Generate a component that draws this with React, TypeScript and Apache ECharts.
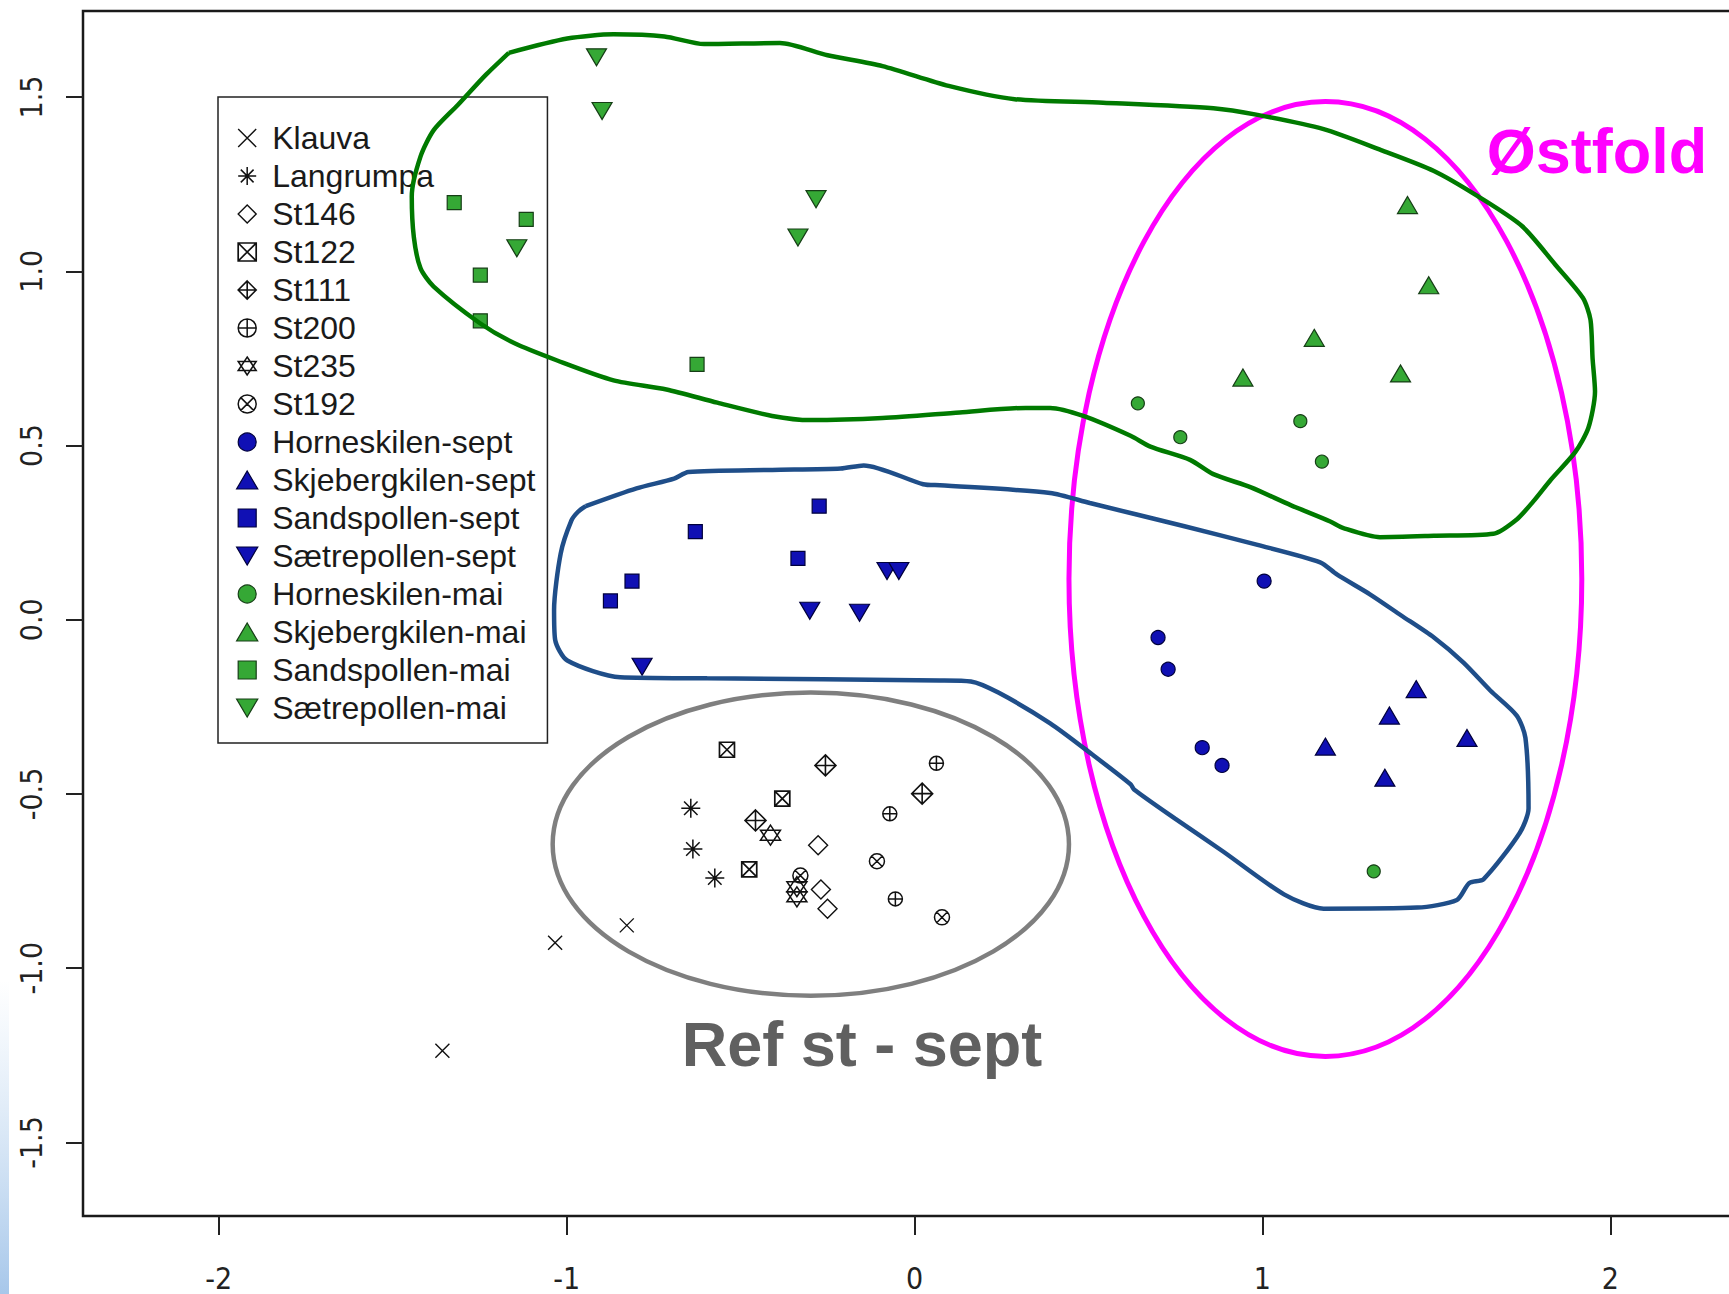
import React, { useEffect, useRef } from "react";
import * as echarts from "echarts";

// ---------- axis ----------
const xTicks = [-2, -1, 0, 1, 2];
const yTicks = [-1.5, -1, -0.5, 0, 0.5, 1, 1.5];
const xRange = [-2.39, 2.39];
const yRange = [-1.711, 1.747];

// ---------- reference stations (open symbols) ----------
const klauva = [[-1.033, -0.927], [-0.827, -0.877], [-1.357, -1.237]];
const langrumpa = [[-0.643, -0.541], [-0.637, -0.658], [-0.574, -0.741]];
const st146 = [[-0.277, -0.647], [-0.269, -0.774], [-0.250, -0.829]];
const st122 = [[-0.539, -0.373], [-0.380, -0.513], [-0.475, -0.716]];
const st111 = [[-0.256, -0.418], [-0.457, -0.576], [0.022, -0.499]];
const st200 = [[0.063, -0.412], [-0.071, -0.557], [-0.055, -0.801]];
const st235 = [[-0.414, -0.618], [-0.338, -0.766], [-0.338, -0.795]];
const st192 = [[-0.328, -0.734], [-0.108, -0.693], [0.079, -0.854]];

// ---------- Østfold stations ----------
const horneskilenSept = [[1.005, 0.111], [0.700, -0.051], [0.729, -0.142], [0.827, -0.367], [0.884, -0.418]];
const skjebergkilenSept = [[1.442, -0.199], [1.365, -0.275], [1.181, -0.364], [1.588, -0.339], [1.352, -0.453]];
const sandspollenSept = [[-0.630, 0.253], [-0.274, 0.326], [-0.335, 0.176], [-0.812, 0.111], [-0.874, 0.054]];
const saetrepollenSept = [[-0.301, 0.026], [-0.158, 0.020], [-0.079, 0.140], [-0.045, 0.140], [-0.783, -0.135]];
const horneskilenMai = [[0.642, 0.621], [0.764, 0.524], [1.109, 0.570], [1.171, 0.454], [1.320, -0.722]];
const skjebergkilenMai = [[1.417, 1.190], [1.478, 0.960], [1.149, 0.809], [0.944, 0.695], [1.397, 0.707]];
const sandspollenMai = [[-1.323, 1.197], [-1.116, 1.149], [-1.248, 0.989], [-1.248, 0.858], [-0.625, 0.733]];
const saetrepollenMai = [[-0.914, 1.614], [-0.898, 1.460], [-0.283, 1.207], [-0.335, 1.097], [-1.143, 1.066]];

// ---------- hand-drawn outlines (data units) ----------
const greenOutline = [
  [-1.166, 1.627], [-0.998, 1.668], [-0.865, 1.680], [-0.719, 1.674], [-0.605, 1.652], [-0.387, 1.655],
  [-0.250, 1.620], [-0.092, 1.589], [0.098, 1.532], [0.288, 1.494], [0.542, 1.484], [0.859, 1.468],
  [0.986, 1.449], [1.176, 1.408], [1.341, 1.348], [1.493, 1.288], [1.620, 1.215], [1.746, 1.130],
  [1.842, 1.019], [1.921, 0.924], [1.943, 0.861], [1.949, 0.750], [1.956, 0.655], [1.937, 0.551],
  [1.899, 0.481], [1.829, 0.402], [1.778, 0.339], [1.731, 0.288], [1.664, 0.247], [1.493, 0.241],
  [1.338, 0.237], [1.233, 0.263], [1.195, 0.282], [1.081, 0.329], [0.967, 0.380], [0.859, 0.418],
  [0.792, 0.459], [0.678, 0.497], [0.621, 0.528], [0.485, 0.585], [0.390, 0.608], [0.320, 0.608],
  [0.130, 0.595], [-0.092, 0.579], [-0.298, 0.573], [-0.409, 0.585], [-0.567, 0.623], [-0.713, 0.661],
  [-0.865, 0.687], [-1.027, 0.744], [-1.151, 0.794], [-1.249, 0.851], [-1.382, 0.956], [-1.420, 1.009],
  [-1.439, 1.098], [-1.445, 1.215], [-1.420, 1.329], [-1.382, 1.405], [-1.312, 1.478], [-1.233, 1.563],
  [-1.166, 1.627],
];
const blueOutline = [
  [-0.945, 0.326], [-0.799, 0.377], [-0.691, 0.405], [-0.650, 0.424], [-0.409, 0.430], [-0.212, 0.434],
  [-0.146, 0.443], [0.025, 0.389], [0.073, 0.386], [0.390, 0.364], [0.504, 0.335], [0.773, 0.269],
  [0.986, 0.215], [1.166, 0.165], [1.214, 0.130], [1.309, 0.073], [1.398, 0.013], [1.493, -0.051],
  [1.578, -0.123], [1.655, -0.203], [1.731, -0.275], [1.756, -0.339], [1.765, -0.541], [1.740, -0.611],
  [1.636, -0.744], [1.594, -0.756], [1.559, -0.804], [1.445, -0.826], [1.176, -0.829], [1.062, -0.788],
  [0.887, -0.665], [0.748, -0.570], [0.631, -0.487], [0.621, -0.472], [0.510, -0.386], [0.390, -0.297],
  [0.241, -0.209], [0.162, -0.177], [0.073, -0.174], [-0.596, -0.168], [-0.846, -0.165], [-0.998, -0.117],
  [-1.033, -0.057], [-1.036, 0.028], [-1.017, 0.190], [-0.986, 0.285], [-0.967, 0.310], [-0.945, 0.326],
];
// ellipses: [centerX, centerY, radiusX, radiusY]
const ostfoldEllipse = [[1.181, 0.117, 0.737, 1.370]];
const refEllipse = [[-0.298, -0.644, 0.742, 0.435]];

// ---------- symbols ----------
const SYM: Record<string, string> = {
  cross: "path://M0,0L20,20M20,0L0,20",
  star: "path://M10,0L10,20M0,10L20,10M2.9,2.9L17.1,17.1M17.1,2.9L2.9,17.1",
  diamond: "path://M10,0L20,10L10,20L0,10Z",
  boxX: "path://M0,0L20,0L20,20L0,20ZM0,0L20,20M20,0L0,20",
  diamondPlus: "path://M10,0L20,10L10,20L0,10ZM10,0L10,20M0,10L20,10",
  circlePlus: "path://M0,10A10,10,0,1,1,20,10A10,10,0,1,1,0,10ZM10,0L10,20M0,10L20,10",
  davidStar: "path://M10,0L20,15L0,15ZM10,20L0,5L20,5Z",
  circleX: "path://M0,10A10,10,0,1,1,20,10A10,10,0,1,1,0,10ZM2.9,2.9L17.1,17.1M17.1,2.9L2.9,17.1",
  circle: "circle",
  triUp: "path://M10,0L20,17L0,17Z",
  square: "path://M0,0L20,0L20,20L0,20Z",
  triDown: "path://M0,0L20,0L10,17Z",
};

const BLUE = "#1010B4";
const BLUE_EDGE = "#00003C";
const GREEN = "#35A835";
const GREEN_EDGE = "#163E16";

type Def = { name: string; data: number[][]; sym: string; size: number | number[]; fill: string; edge: string; lw: number };
const defs: Def[] = [
  { name: "Klauva", data: klauva, sym: "cross", size: 14, fill: "transparent", edge: "#111", lw: 1.4 },
  { name: "Langrumpa", data: langrumpa, sym: "star", size: 19, fill: "transparent", edge: "#111", lw: 1.5 },
  { name: "St146", data: st146, sym: "diamond", size: 19, fill: "transparent", edge: "#111", lw: 1.4 },
  { name: "St122", data: st122, sym: "boxX", size: 15, fill: "transparent", edge: "#111", lw: 1.7 },
  { name: "St111", data: st111, sym: "diamondPlus", size: 21, fill: "transparent", edge: "#111", lw: 1.6 },
  { name: "St200", data: st200, sym: "circlePlus", size: 14, fill: "transparent", edge: "#111", lw: 1.5 },
  { name: "St235", data: st235, sym: "davidStar", size: 20, fill: "transparent", edge: "#111", lw: 1.5 },
  { name: "St192", data: st192, sym: "circleX", size: 15, fill: "transparent", edge: "#111", lw: 1.5 },
  { name: "Horneskilen-sept", data: horneskilenSept, sym: "circle", size: 14, fill: BLUE, edge: BLUE_EDGE, lw: 1.2 },
  { name: "Skjebergkilen-sept", data: skjebergkilenSept, sym: "triUp", size: [20, 17], fill: BLUE, edge: BLUE_EDGE, lw: 1.2 },
  { name: "Sandspollen-sept", data: sandspollenSept, sym: "square", size: 14, fill: BLUE, edge: BLUE_EDGE, lw: 1.2 },
  { name: "Sætrepollen-sept", data: saetrepollenSept, sym: "triDown", size: [20, 17], fill: BLUE, edge: BLUE_EDGE, lw: 1.2 },
  { name: "Horneskilen-mai", data: horneskilenMai, sym: "circle", size: 13, fill: GREEN, edge: GREEN_EDGE, lw: 1.2 },
  { name: "Skjebergkilen-mai", data: skjebergkilenMai, sym: "triUp", size: [20, 17], fill: GREEN, edge: GREEN_EDGE, lw: 1.2 },
  { name: "Sandspollen-mai", data: sandspollenMai, sym: "square", size: 14, fill: GREEN, edge: GREEN_EDGE, lw: 1.2 },
  { name: "Sætrepollen-mai", data: saetrepollenMai, sym: "triDown", size: [20, 17], fill: GREEN, edge: GREEN_EDGE, lw: 1.2 },
];

const FONT = "'Liberation Sans', Arial, Helvetica, sans-serif";
const AXIS_FONT = "'Liberation Sans Narrow', 'DejaVu Sans Condensed', 'Liberation Sans', Arial, sans-serif";

export default function App() {
  const ref = useRef<HTMLDivElement>(null);
  useEffect(() => {
    if (!ref.current) return;
    const chart = echarts.init(ref.current, null, { renderer: "svg" });

    const scatterSeries = defs.map((d) => ({
      type: "scatter",
      name: d.name,
      data: d.data,
      symbol: SYM[d.sym],
      symbolSize: d.size,
      z: 6,
      silent: true,
      itemStyle: { color: d.fill, borderColor: d.edge, borderWidth: d.lw, opacity: 1 },
    }));

    const outline = (name: string, data: number[][], color: string) => ({
      type: "line",
      name,
      data,
      smooth: 0.25,
      showSymbol: false,
      symbol: "none",
      silent: true,
      z: 10,
      lineStyle: { color, width: 4.5 },
    });

    const ellipse = (name: string, data: number[][], color: string, width: number) => ({
      type: "custom",
      name,
      data,
      z: 10,
      silent: true,
      renderItem: (_p: any, api: any) => {
        const c = api.coord([api.value(0), api.value(1)]);
        const s = api.size([api.value(2), api.value(3)]);
        return {
          type: "ellipse",
          shape: { cx: c[0], cy: c[1], rx: s[0], ry: s[1] },
          style: { fill: "none", stroke: color, lineWidth: width },
        };
      },
    });

    const option: any = {
      animation: false,
      backgroundColor: "#ffffff",
      grid: {
        left: 83,
        top: 11,
        width: 1663,
        height: 1205,
        outerBoundsMode: "none",
        containLabel: false,
        show: true,
        borderColor: "#1a1a1a",
        borderWidth: 2.5,
        backgroundColor: "transparent",
      },
      xAxis: {
        type: "value",
        min: xRange[0],
        max: xRange[1],
        splitLine: { show: false },
        axisLine: { show: false, onZero: false },
        axisTick: { show: true, length: 19, lineStyle: { color: "#222", width: 2 }, customValues: xTicks },
        axisLabel: {
          customValues: xTicks,
          fontSize: 30,
          color: "#222",
          margin: 47,
          fontFamily: AXIS_FONT,
          formatter: (v: number) => String(v),
        },
      },
      yAxis: {
        type: "value",
        min: yRange[0],
        max: yRange[1],
        splitLine: { show: false },
        axisLine: { show: false, onZero: false },
        axisTick: { show: true, length: 17, lineStyle: { color: "#222", width: 2 }, customValues: yTicks },
        axisLabel: {
          customValues: yTicks,
          rotate: 90,
          fontSize: 30,
          color: "#222",
          margin: 37,
          fontFamily: AXIS_FONT,
          formatter: (v: number) => v.toFixed(1),
        },
      },
      legend: {
        orient: "vertical",
        left: 218,
        top: 97,
        padding: [25, 12, 19, 18],
        itemGap: 6,
        itemWidth: 40,
        itemHeight: 18,
        selectedMode: false,
        backgroundColor: "transparent",
        borderColor: "#222",
        borderWidth: 1.5,
        z: 4,
        textStyle: { fontSize: 32, lineHeight: 32, color: "#1a1a1a", fontFamily: FONT },
        data: defs.map((d) => ({
          name: d.name,
          icon: SYM[d.sym],
          itemStyle: { color: d.fill, borderColor: d.edge, borderWidth: d.lw },
        })),
      },
      graphic: [
        {
          type: "rect",
          left: 0,
          top: 980,
          shape: { width: 9, height: 314 },
          style: {
            fill: new echarts.graphic.LinearGradient(0, 0, 0, 1, [
              { offset: 0, color: "rgba(190,215,240,0)" },
              { offset: 1, color: "#a7c7ea" },
            ]),
          },
          z: 20,
          silent: true,
        },
        {
          type: "text",
          x: 1597,
          y: 151,
          z: 20,
          silent: true,
          style: {
            text: "Østfold",
            fill: "#FF00FF",
            fontSize: 63,
            fontWeight: "bold",
            fontFamily: FONT,
            textAlign: "center",
            textVerticalAlign: "middle",
          },
        },
        {
          type: "text",
          x: 862,
          y: 1044,
          z: 20,
          silent: true,
          style: {
            text: "Ref st - sept",
            fill: "#606060",
            fontSize: 63,
            fontWeight: "bold",
            fontFamily: FONT,
            textAlign: "center",
            textVerticalAlign: "middle",
          },
        },
      ],
      series: [
        ...scatterSeries,
        outline("greenOutline", greenOutline, "#007A00"),
        outline("blueOutline", blueOutline, "#1F4E89"),
        ellipse("ostfoldEllipse", ostfoldEllipse, "#FF00FF", 5),
        ellipse("refEllipse", refEllipse, "#7F7F7F", 4.5),
      ],
    };
    chart.setOption(option);
    return () => chart.dispose();
  }, []);

  return (
    <div
      ref={ref}
      style={{ position: "fixed", left: 0, top: 0, width: 1729, height: 1294, background: "#fff" }}
    />
  );
}
